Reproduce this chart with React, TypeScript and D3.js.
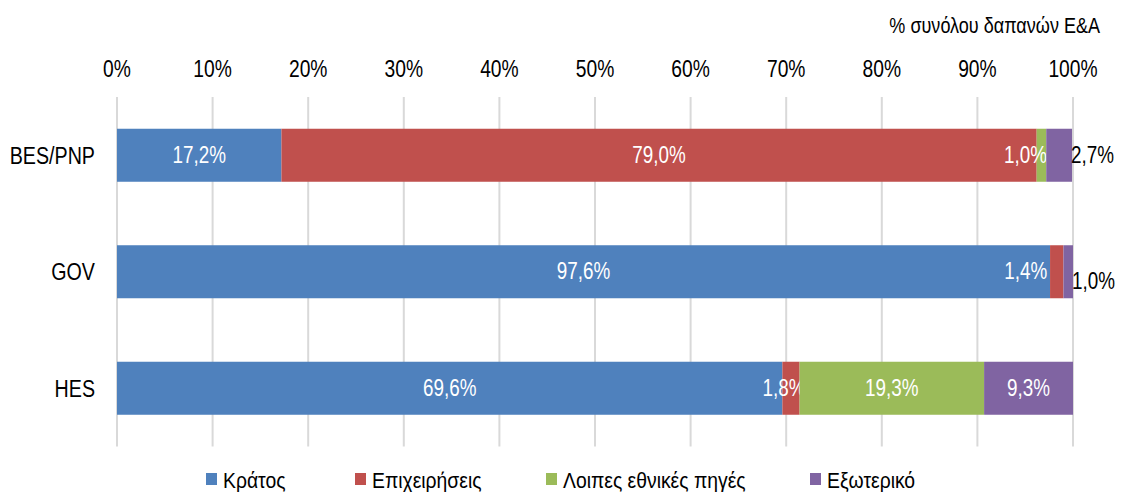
import React, { useEffect, useRef } from "react";
import * as d3 from "d3";

const categories = ["BES/PNP", "GOV", "HES"];
const seriesNames = ["Κράτος", "Επιχειρήσεις", "Λοιπες εθνικές πηγές", "Εξωτερικό"];
const kratos = [17.2, 97.6, 69.6];
const epixeiriseis = [79.0, 1.4, 1.8];
const loipes = [1.0, 0, 19.3];
const exoteriko = [2.7, 1.0, 9.3];
const tickValues = [0, 10, 20, 30, 40, 50, 60, 70, 80, 90, 100];
const axisTitle = "% συνόλου δαπανών Ε&Α";

const colors = ["#4F81BD", "#C0504D", "#9BBB59", "#8064A2"];
const FONT = "'Liberation Sans', Arial, sans-serif";
const SX = 0.82; // horizontal condensing to mimic a narrow face

// label placement tweaks (layout only)
const labelDx: Record<string, number> = { "0-2": -16, "1-1": -31, "2-1": -7 };
const outsideDy: Record<string, number> = { "0-3": 7.5, "1-3": 17.5 };

export default function App() {
  const ref = useRef<SVGSVGElement>(null);
  useEffect(() => {
    const svg = d3.select(ref.current);
    svg.selectAll("*").remove();
    const W = 1121, H = 492;
    const x = d3.scaleLinear().domain([0, 100]).range([117, 1073]);
    const y = d3.scaleBand<string>().domain(categories).range([97, 446.5]).paddingInner(0.545).paddingOuter(0.2725);
    const series = [kratos, epixeiriseis, loipes, exoteriko];

    svg.attr("width", W).attr("height", H).style("font-family", FONT);

    const txt = (g: any, tx: number, ty: number, s: string, size: number, anchor: string, fill: string, sx = SX) =>
      g.append("text").attr("transform", `translate(${tx},${ty}) scale(${sx},1)`)
        .attr("text-anchor", anchor).attr("font-size", size).attr("fill", fill).text(s);

    // gridlines
    svg.append("g").selectAll("line").data(tickValues).join("line")
      .attr("x1", d => x(d)).attr("x2", d => x(d))
      .attr("y1", 97).attr("y2", 446.5)
      .attr("stroke", "#D9D9D9").attr("stroke-width", 2);

    // tick labels
    const tg = svg.append("g");
    tickValues.forEach(d => txt(tg, x(d), 77, d + "%", 23.5, "middle", "#000"));

    txt(svg, 1100, 33, axisTitle, 22, "end", "#000");

    // category labels
    const cg = svg.append("g");
    categories.forEach(d => txt(cg, 95, (y(d) as number) + y.bandwidth() / 2 + 8.5, d, 24, "end", "#000"));

    const fmt = (v: number) => v.toFixed(1).replace(".", ",") + "%";

    categories.forEach((c, ci) => {
      let acc = 0;
      series.forEach((s, si) => {
        const v = s[ci];
        const x0 = x(acc), x1 = x(acc + v);
        acc += v;
        if (v <= 0) return;
        const yy = y(c) as number;
        svg.append("rect").attr("x", x0).attr("y", yy).attr("width", x1 - x0)
          .attr("height", y.bandwidth()).attr("fill", colors[si]);
        const key = ci + "-" + si;
        const cy = yy + y.bandwidth() / 2;
        if (outsideDy[key] !== undefined) {
          txt(svg, x1 - 1, cy + outsideDy[key], fmt(v), 23, "start", "#000");
        } else {
          txt(svg, (x0 + x1) / 2 + (labelDx[key] || 0), cy + 7.5, fmt(v), 23, "middle", "#fff");
        }
      });
    });

    // legend
    const lx = [206, 355, 546, 810];
    const lg = svg.append("g");
    seriesNames.forEach((n, i) => {
      lg.append("rect").attr("x", lx[i]).attr("y", 473).attr("width", 11).attr("height", 12).attr("fill", colors[i]);
      txt(lg, lx[i] + 17, 488, n, 21.5, "start", "#000", 0.9);
    });
  }, []);
  return <svg ref={ref} style={{ position: "absolute", left: 0, top: 0 }} />;
}
